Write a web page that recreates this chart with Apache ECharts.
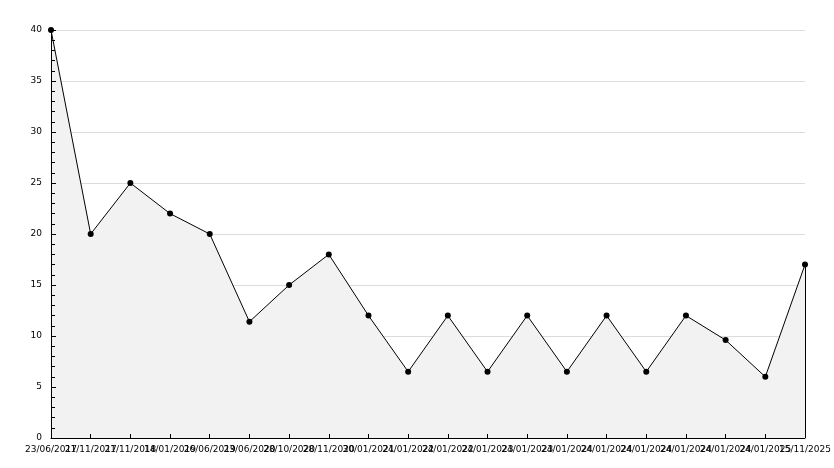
<!DOCTYPE html>
<html>
<head>
<meta charset="utf-8">
<script src="https://cdn.jsdelivr.net/npm/echarts@6/dist/echarts.min.js"></script>
<style>
  html, body { margin: 0; padding: 0; background: #fff; }
  #chart { width: 834px; height: 468px; }
</style>
</head>
<body>
<div id="chart"></div>
<script>
// dates on the x axis (overlapping in the original, read as well as possible)
var dates = ['23/06/2017', '21/11/2017', '21/11/2018', '14/01/2019', '26/06/2019',
             '23/06/2020', '28/10/2020', '28/11/2020', '30/01/2021', '24/01/2022',
             '24/01/2022', '24/01/2023', '24/01/2023', '24/01/2024', '24/01/2024',
             '24/01/2024', '24/01/2024', '24/01/2024', '24/01/2025', '15/11/2025']
var values = [40, 20, 25, 22, 20, 11.4, 15, 18, 12, 6.5, 12, 6.5, 12, 6.5, 12, 6.5, 12, 9.6, 6, 17]
var yTicks = [0, 5, 10, 15, 20, 25, 30, 35, 40]

var myCharts = echarts.init(document.getElementById('chart'))
var last = values.length - 1
var yMin = yTicks[0], yMax = yTicks[yTicks.length - 1]
var options = {
    animation: false,
    backgroundColor: '#fff',
    textStyle: { fontFamily: 'DejaVu Sans', fontSize: 9, color: '#000' },
    grid: { left: 51, right: 29, top: 30, bottom: 30 },
    xAxis: [{
        // bottom layer, drives the series
        type: 'category',
        data: dates,
        boundaryGap: false,
        axisLine: { show: false },
        axisTick: { show: false },
        axisLabel: { show: false },
        splitLine: { show: false }
    }, {
        // top layer: axis line, ticks and labels over the fill
        type: 'category',
        data: dates,
        position: 'bottom',
        boundaryGap: false,
        z: 5,
        axisLine: { lineStyle: { color: '#000', width: 1 } },
        axisTick: { inside: true, length: 4, alignWithLabel: true, lineStyle: { color: '#000' } },
        axisLabel: { interval: 0, color: '#000', fontSize: 9, margin: 7, fontFamily: 'DejaVu Sans' },
        splitLine: { show: false }
    }],
    yAxis: [{
        // grid lines under the fill
        type: 'value',
        min: yMin,
        max: yMax,
        interval: 5,
        axisLine: { show: false },
        axisTick: { show: false },
        axisLabel: { show: false },
        splitLine: { show: true, lineStyle: { color: '#dcdcdc', width: 1 } }
    }, {
        type: 'value',
        min: yMin,
        max: yMax,
        interval: 5,
        position: 'left',
        z: 5,
        axisLine: { show: true, lineStyle: { color: '#000', width: 1 } },
        axisTick: { show: true, inside: true, length: 5, lineStyle: { color: '#000' } },
        minorTick: { show: true, splitNumber: 5, length: 4, lineStyle: { color: '#000' } },
        axisLabel: { color: '#000', fontSize: 9, margin: 9, fontFamily: 'DejaVu Sans' },
        splitLine: { show: false }
    }],
    series: [{
        type: 'line',
        data: values,
        xAxisIndex: 0,
        yAxisIndex: 0,
        symbol: 'circle',
        symbolSize: 6,
        itemStyle: { color: '#000' },
        lineStyle: { color: '#000', width: 1 },
        areaStyle: { color: '#f2f2f2', opacity: 1 },
        markLine: {
            silent: true,
            symbol: ['none', 'none'],
            label: { show: false },
            lineStyle: { color: '#000', width: 1, type: 'solid' },
            data: [[{ coord: [last, 0] }, { coord: [last, values[last]] }]]
        }
    }]
}
myCharts.setOption(options)
</script>
</body>
</html>
